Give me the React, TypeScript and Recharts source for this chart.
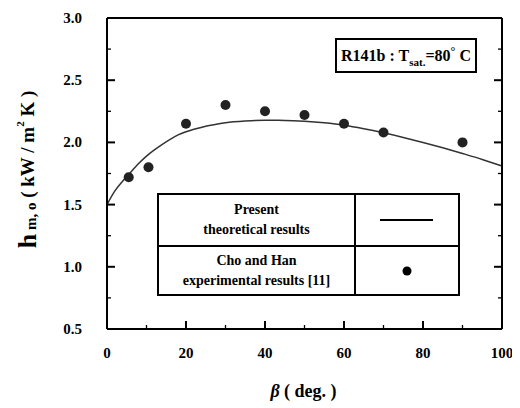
import React from "react";
import { ComposedChart, Line, Scatter, XAxis, YAxis } from "recharts";

// Theoretical curve (present theoretical results)
const curveBeta = [0, 2, 4, 6, 8, 10, 12, 14, 16, 18, 20, 22, 25, 28, 30, 35, 40, 45, 50, 55, 60, 65, 70, 75, 80, 85, 90, 95, 100];
const curveH = [1.5, 1.61, 1.69, 1.76, 1.83, 1.89, 1.94, 1.985, 2.025, 2.06, 2.085, 2.105, 2.13, 2.148, 2.158, 2.172, 2.178, 2.177, 2.17, 2.157, 2.138, 2.11, 2.077, 2.04, 2.0, 1.957, 1.911, 1.863, 1.81];

// Cho and Han experimental results [11]
const expBeta = [5.5, 10.5, 20, 30, 40, 50, 60, 70, 90];
const expH = [1.72, 1.8, 2.15, 2.3, 2.25, 2.22, 2.15, 2.08, 2.0];

const yTicks = [0.5, 0.75, 1.0, 1.25, 1.5, 1.75, 2.0, 2.25, 2.5, 2.75, 3.0];
const xTicks = [0, 10, 20, 30, 40, 50, 60, 70, 80, 90, 100];

const curveData = curveBeta.map((b, i) => ({ beta: b, h: curveH[i] }));
const expData = expBeta.map((b, i) => ({ beta: b, h: expH[i] }));

const FONT = "Liberation Serif";
const TICK_COLOR = "#000";

const isMajorY = (v: number) => Math.abs(v * 2 - Math.round(v * 2)) < 1e-6;
const isMajorX = (v: number) => v % 20 === 0;

const LeftTick = (props: any) => {
  const { x, y, payload } = props;
  const v = payload.value as number;
  const major = isMajorY(v);
  return (
    <g>
      <line x1={x} x2={x + (major ? 8 : 4)} y1={y} y2={y} stroke={TICK_COLOR} strokeWidth={major ? 2 : 1.3} />
      {major ? (
        <text x={x - 25} y={y} dy={5} textAnchor="end" fontFamily={FONT} fontWeight="bold" fontSize={15} fill="#000">
          {v.toFixed(1)}
        </text>
      ) : null}
    </g>
  );
};

const RightTick = (props: any) => {
  const { x, y, payload } = props;
  const v = payload.value as number;
  const major = isMajorY(v);
  return (
    <g>
      <line x1={x} x2={x - (major ? 8 : 4)} y1={y} y2={y} stroke={TICK_COLOR} strokeWidth={major ? 2 : 1.3} />
    </g>
  );
};

const BottomTick = (props: any) => {
  const { x, y, payload } = props;
  const v = payload.value as number;
  const major = isMajorX(v);
  return (
    <g>
      <line x1={x} x2={x} y1={y} y2={y - (major ? 8 : 4)} stroke={TICK_COLOR} strokeWidth={major ? 2 : 1.3} />
      {major ? (
        <text x={x} y={y + 29} textAnchor="middle" fontFamily={FONT} fontWeight="bold" fontSize={15} fill="#000">
          {v}
        </text>
      ) : null}
    </g>
  );
};

const NoTick = () => <g />;

const YTitle = (props: any) => {
  const vb = props.viewBox;
  const cx = vb.x - 20;
  const cy = vb.y + vb.height / 2 - 4;
  return (
    <text
      x={cx}
      y={cy}
      transform={`rotate(-90, ${cx}, ${cy})`}
      textAnchor="middle"
      dominantBaseline="central"
      fontFamily={FONT}
      fontWeight="bold"
      fill="#000"
    >
      <tspan fontSize={26}>h</tspan>
      <tspan fontSize={15} dy={4}>{" m, o"}</tspan>
      <tspan fontSize={19} dy={-4}>{"  ( kW / m"}</tspan>
      <tspan fontSize={11} dy={-7}>2</tspan>
      <tspan fontSize={19} dy={7}>{" K )"}</tspan>
    </text>
  );
};

const XTitle = (props: any) => {
  const vb = props.viewBox;
  const cx = vb.x + vb.width / 2 - 1;
  return (
    <text x={cx} y={vb.y + 68} textAnchor="middle" fontFamily={FONT} fontWeight="bold" fontSize={18} fill="#000">
      <tspan fontStyle="italic">β</tspan>
      <tspan>{" ( deg. )"}</tspan>
    </text>
  );
};

const Dot = (props: any) => {
  const { cx, cy } = props;
  return <circle cx={cx} cy={cy} r={5} fill="#222" />;
};

const cellStyle: React.CSSProperties = {
  border: "2px solid #000",
  textAlign: "center",
  verticalAlign: "middle",
  padding: 0,
  lineHeight: "20px",
};

export default function App() {
  return (
    <div style={{ position: "relative", width: 512, height: 400, background: "#fff" }}>
      <ComposedChart width={512} height={400} margin={{ top: 0, right: 0, left: 39, bottom: 39 }}>
        <XAxis
          xAxisId="bottom"
          dataKey="beta"
          type="number"
          domain={[0, 100]}
          ticks={xTicks}
          interval={0}
          tickSize={0}
          tickMargin={0}
          tick={<BottomTick />}
          axisLine={{ stroke: "#000", strokeWidth: 2 }}
          height={40}
          label={<XTitle />}
        />
        <XAxis
          xAxisId="top"
          orientation="top"
          dataKey="beta"
          type="number"
          domain={[0, 100]}
          ticks={[0, 100]}
          tick={<NoTick />}
          tickLine={false}
          axisLine={{ stroke: "#000", strokeWidth: 2 }}
          height={10}
        />
        <YAxis
          yAxisId="left"
          type="number"
          domain={[0.5, 3]}
          ticks={yTicks}
          interval={0}
          tickSize={0}
          tickMargin={0}
          tick={<LeftTick />}
          axisLine={{ stroke: "#000", strokeWidth: 2 }}
          width={60}
          label={<YTitle />}
        />
        <YAxis
          yAxisId="right"
          orientation="right"
          type="number"
          domain={[0.5, 3]}
          ticks={yTicks}
          interval={0}
          tickSize={0}
          tickMargin={0}
          tick={<RightTick />}
          axisLine={{ stroke: "#000", strokeWidth: 2 }}
          width={18}
        />
        <Line
          xAxisId="bottom"
          yAxisId="left"
          data={curveData}
          dataKey="h"
          type="monotone"
          stroke="#333"
          strokeWidth={1.5}
          dot={false}
          isAnimationActive={false}
        />
        <Scatter
          xAxisId="top"
          yAxisId="right"
          data={expData}
          dataKey="h"
          shape={<Dot />}
          isAnimationActive={false}
        />
      </ComposedChart>

      <div
        style={{
          position: "absolute",
          left: 327,
          top: 30,
          width: 142,
          height: 35,
          boxSizing: "border-box",
          border: "2px solid #000",
          background: "#fff",
          display: "flex",
          alignItems: "center",
          justifyContent: "center",
          fontFamily: FONT,
          fontWeight: "bold",
          fontSize: 16,
          whiteSpace: "nowrap",
        }}
      >
        <span>
          R141b : T<sub style={{ fontSize: 11 }}>sat.</sub>=80<sup style={{ fontSize: 12 }}>°</sup> C
        </span>
      </div>

      <table
        style={{
          position: "absolute",
          left: 149,
          top: 185,
          width: 303,
          height: 103,
          borderCollapse: "collapse",
          background: "#fff",
          fontFamily: FONT,
          fontWeight: "bold",
          fontSize: 14,
        }}
      >
        <tbody>
          <tr style={{ height: 52 }}>
            <td style={{ ...cellStyle, width: 195 }}>
              Present
              <br />
              theoretical results
            </td>
            <td style={cellStyle}>
              <svg width={60} height={10} style={{ display: "block", margin: "0 auto" }}>
                <line x1={3} x2={56} y1={5} y2={5} stroke="#000" strokeWidth={2} />
              </svg>
            </td>
          </tr>
          <tr>
            <td style={{ ...cellStyle, width: 195 }}>
              Cho and Han
              <br />
              experimental results [11]
            </td>
            <td style={cellStyle}>
              <svg width={12} height={12} style={{ display: "block", margin: "0 auto" }}>
                <circle cx={6} cy={6} r={4.5} fill="#000" />
              </svg>
            </td>
          </tr>
        </tbody>
      </table>
    </div>
  );
}
